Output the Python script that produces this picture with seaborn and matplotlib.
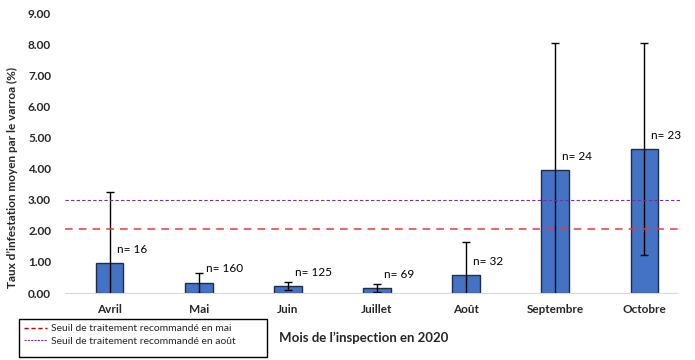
import numpy as np
import pandas as pd
import matplotlib
matplotlib.use("Agg")
import matplotlib.pyplot as plt
import seaborn as sns
from matplotlib.lines import Line2D
from matplotlib.patches import Rectangle

months = ["Avril", "Mai", "Juin", "Juillet", "Août", "Septembre", "Octobre"]
taux = [0.96, 0.33, 0.22, 0.15, 0.58, 3.94, 4.63]
ecart = [2.29, 0.32, 0.12, 0.13, 1.06, 4.09, 3.42]
n_ruchers = [16, 160, 125, 69, 32, 24, 23]
seuil_mai = 2.05
seuil_aout = 3.0

df = pd.DataFrame({"Mois": months, "Taux": taux, "Ecart": ecart, "n": n_ruchers})

sns.set_style("white")
plt.rcParams["font.family"] = ["Lato", "DejaVu Sans"]

fig = plt.figure(figsize=(6.95, 3.6), dpi=100)
ax = fig.add_axes([65 / 695, 1 - 293 / 360, 624 / 695, 280 / 360])

sns.barplot(data=df, x="Mois", y="Taux", color="#4472C4", width=0.31,
            edgecolor="#1F2D4A", linewidth=1.0, saturation=1, ax=ax)
ax.errorbar(np.arange(len(months)), df["Taux"], yerr=df["Ecart"], fmt="none",
            ecolor="black", elinewidth=1.0, capsize=2.6, capthick=1.0)

ax.axhline(seuil_mai, xmin=0, xmax=0.985, color="#E8383D", ls=(0, (5, 4)), lw=1.1)
ax.axhline(seuil_aout, xmin=0, xmax=0.985, color="#7030A0", ls=(0, (3, 2)), lw=0.8)

for i, row in df.iterrows():
    ax.annotate(f"n= {row['n']}", (i, row["Taux"]), xytext=(5, 10),
                textcoords="offset points", fontsize=8.5, color="black",
                ha="left", va="center")

ax.set_ylim(0, 9)
ax.set_xlim(-0.5, 6.5)
ax.set_yticks(np.arange(0, 10, 1))
ax.set_yticklabels([f"{v:.2f}" for v in np.arange(0, 10, 1)], fontweight="bold", fontsize=8.5)
ax.set_xticks(range(len(months)))
ax.set_xticklabels(months, fontweight="bold", fontsize=8.5)
ax.tick_params(axis="x", length=0, pad=8)
ax.tick_params(axis="y", length=0, pad=10)
for s in ["top", "right", "left"]:
    ax.spines[s].set_visible(False)
ax.spines["bottom"].set_color("#D9D9D9")
ax.spines["bottom"].set_bounds(-0.5, 6.37)
ax.set_xlabel("")
ax.set_ylabel("")

fig.text(12 / 695, 1 - 178 / 360, "Taux d’infestation moyen par le varroa (%)",
         fontweight="bold", fontsize=8.5, rotation=90, ha="center", va="center")
fig.text(279 / 695, 1 - 338 / 360, "Mois de l’inspection en 2020",
         fontweight="bold", fontsize=9.5, va="center", ha="left")

# legend box drawn by hand, legend itself without frame
fig.patches.append(Rectangle((19 / 695, 1 - 357 / 360), 248 / 695, 38 / 360,
                             transform=fig.transFigure, fill=False,
                             edgecolor="black", linewidth=1.0))
handles = [Line2D([0], [0], color="#C00000", ls=(0, (3, 2)), lw=1.0),
           Line2D([0], [0], color="#7030A0", ls=(0, (2, 1)), lw=0.8)]
leg = fig.legend(handles, ["Seuil de traitement recommandé en mai",
                           "Seuil de traitement recommandé en août"],
                 loc="upper left", bbox_to_anchor=(20 / 695, 1 - 320 / 360),
                 fontsize=7.5, frameon=False, handlelength=2.2,
                 handletextpad=0.4, borderpad=0.4, labelspacing=0.3,
                 borderaxespad=0)

fig.savefig("out.png", dpi=100)
